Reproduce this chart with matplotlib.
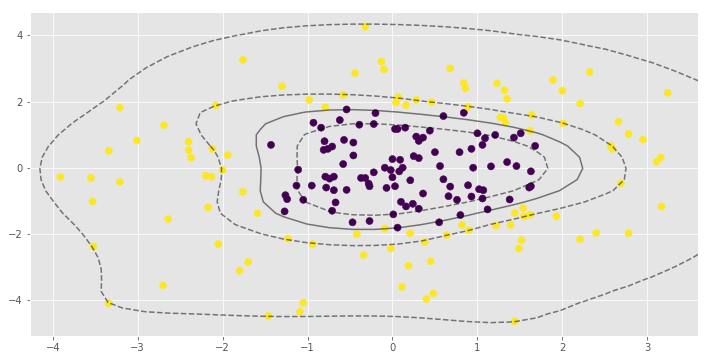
import numpy as np
import matplotlib
matplotlib.use("Agg")
import matplotlib.pyplot as plt

plt.style.use("ggplot")

purple_x = [-0.54, -0.20, 0.60, 0.84, -1.43, -0.93, -0.84, -0.62, -0.39, -0.80, -0.57, -0.46, -0.81, -0.76, -0.71,
            -0.46, -0.58, -1.11, -0.79, -0.74, -0.69, -0.37, -0.32, -0.95, -1.13, -0.78, -0.69, -0.54, -1.26, -1.24,
            -1.05, -0.67, -1.27, -0.71, -0.47, -0.22, 0.03, 0.06, 0.15, 0.44, 0.28, 0.31, 0.36, 0.50, 0.79, 0.93,
            1.00, 1.09, 1.06, 1.21, 1.43, 1.51, 0.00, 0.09, 0.25, 0.31, -0.09, -0.02, 0.12, 0.08, 0.56, 0.95, 1.16,
            1.35, 1.46, -0.22, 0.00, 0.21, 0.60, -0.28, -0.27, -0.07, 0.03, 0.68, 0.89, 1.02, 1.07, 0.36, 0.66,
            0.76, 0.93, 1.06, 1.38, 0.10, 0.16, 0.24, 0.31, 0.01, 0.80, 1.12, -0.27, 0.55, 0.06, 1.68, 1.63, 1.61,
            1.63]
purple_y = [1.76, 1.65, 1.56, 1.66, 0.69, 1.36, 1.21, 1.44, 1.30, 0.80, 0.84, 0.76, 0.54, 0.57, 0.64,
            0.37, 0.11, -0.06, -0.27, -0.33, -0.27, -0.31, -0.31, -0.54, -0.54, -0.60, -0.68, -0.67, -0.83, -0.95,
            -0.97, -1.05, -1.32, -1.30, -1.65, 1.32, 1.17, 1.17, 1.21, 1.12, 0.94, 0.81, 0.91, 0.47, 0.47, 0.57,
            1.04, 0.89, 0.69, 0.99, 0.91, 1.04, 0.26, 0.24, 0.35, 0.29, 0.00, -0.07, 0.00, -0.11, 0.05, 0.00, 0.04,
            0.17, 0.05, -0.14, -0.29, -0.38, -0.35, -0.48, -0.56, -0.61, -0.56, -0.57, -0.53, -0.65, -0.68, -0.78, -0.86,
            -0.97, -0.87, -0.93, -0.96, -1.03, -1.17, -1.09, -1.24, -1.41, -1.43, -1.26, -1.61, -1.65, -1.81, 0.66, -0.11, -0.60,
            -0.56]

yellow_x = [-3.21, -1.76, -0.44, -1.30, -2.08, -0.98, -0.58, -0.79, -0.32, -0.13, -0.10, 0.68, 0.84, 0.86, 1.23,
            1.32, 1.35, 0.07, 0.04, 0.16, 0.28, 0.46, 0.89, 1.27, 1.31, 1.33, 1.64, 1.89, 2.32, 2.00, 2.21, 3.24,
            2.66, -2.69, -3.01, -3.34, -2.40, -2.40, -2.37, -3.91, -3.55, -3.21, -3.53, -2.64, -2.12, -1.94, -2.00,
            -2.20, -2.13, -1.76, -2.17, -1.59, 1.62, 2.01, 2.78, 2.95, 2.57, 2.59, 3.16, 3.11, 2.69, 3.17, 1.44,
            1.54, 1.55, 1.62, 1.93, -3.52, -2.70, -3.34, -2.05, -1.80, -1.70, -1.23, -0.94, -0.42, -0.34, -1.05,
            -1.09, -1.46, -0.09, 0.21, 0.82, 0.90, 0.64, 1.22, 1.39, 1.52, 1.49, 0.38, -0.02, 0.19, 0.45, 0.11,
            0.48, 0.40, 1.44, 2.21, 2.40, 2.78]
yellow_y = [1.82, 3.26, 2.86, 2.46, 1.88, 2.05, 2.20, 1.83, 4.26, 3.21, 2.97, 3.00, 2.56, 2.40, 2.55,
            2.34, 2.08, 2.13, 1.97, 1.89, 2.05, 1.98, 1.84, 1.52, 1.50, 1.37, 1.59, 2.65, 2.89, 2.33, 1.94, 2.26,
            1.39, 1.28, 0.82, 0.51, 0.79, 0.53, 0.30, -0.28, -0.31, -0.43, -1.02, -1.55, 0.57, 0.38, -0.07,
            -0.24, -0.27, -0.73, -1.20, -1.38, 1.12, 1.34, 1.02, 0.85, 0.67, 0.57, 0.31, 0.18, -0.47, -1.17, -1.37,
            -1.22, -1.47, -1.42, -1.47, -2.38, -3.56, -4.10, -2.31, -3.11, -2.85, -2.14, -2.31, -2.01, -2.64, -4.08,
            -4.35, -4.48, -1.84, -1.98, -1.73, -1.89, -2.04, -1.75, -1.73, -2.19, -2.44, -2.25, -2.44, -2.96, -2.83, -3.60,
            -3.80, -3.97, -4.64, -2.16, -1.97, -1.98]

X = np.column_stack([np.r_[purple_x, yellow_x], np.r_[purple_y, yellow_y]])
labels = np.r_[np.zeros(len(purple_x)), np.ones(len(yellow_x))]
ysgn = np.where(labels > 0, 1.0, -1.0)

# --- simple RBF SVM (SMO) ---
C = 1.0
gamma = 0.5


def kern(A, B):
    d = ((A[:, None, :] - B[None, :, :]) ** 2).sum(-1)
    return np.exp(-gamma * d)


K = kern(X, X)
Q = ysgn[:, None] * ysgn[None, :] * K
n = len(ysgn)
alpha = np.zeros(n)
G = -np.ones(n)
m = Mv = 0.0
for it in range(20000):
    up = ((alpha < C) & (ysgn > 0)) | ((alpha > 0) & (ysgn < 0))
    low = ((alpha < C) & (ysgn < 0)) | ((alpha > 0) & (ysgn > 0))
    v = -ysgn * G
    vu = np.where(up, v, -np.inf)
    i = int(np.argmax(vu))
    m = vu[i]
    vl = np.where(low, v, np.inf)
    Mv = vl.min()
    if m - Mv < 1e-4:
        break
    bb = m - v
    aa = K[i, i] + np.diag(K) - 2 * K[i]
    aa = np.maximum(aa, 1e-12)
    cand = low & (v < m)
    score = np.where(cand, -bb ** 2 / aa, np.inf)
    j = int(np.argmin(score))
    t = bb[j] / aa[j]
    tmax_i = (C - alpha[i]) if ysgn[i] > 0 else alpha[i]
    tmax_j = alpha[j] if ysgn[j] > 0 else (C - alpha[j])
    t = min(t, tmax_i, tmax_j)
    di = ysgn[i] * t
    dj = -ysgn[j] * t
    alpha[i] += di
    alpha[j] += dj
    G += Q[:, i] * di + Q[:, j] * dj

free = (alpha > 1e-8) & (alpha < C - 1e-8)
if free.any():
    rho = np.mean(ysgn[free] * G[free])
else:
    rho = -(m + Mv) / 2

fig = plt.figure(figsize=(709 / 72, 361 / 72), dpi=72)
ax = fig.add_axes([30 / 709, 25 / 361, 668 / 709, 324 / 361])
ax.scatter(X[:, 0], X[:, 1], c=labels, s=50, cmap="viridis")

xlim = ax.get_xlim()
ylim = ax.get_ylim()
gx = np.linspace(xlim[0], xlim[1], 30)
gy = np.linspace(ylim[0], ylim[1], 30)
YY, XX = np.meshgrid(gy, gx)
P = np.vstack([XX.ravel(), YY.ravel()]).T
dec = (kern(P, X) @ (alpha * ysgn) - rho).reshape(XX.shape)
ax.contour(XX, YY, dec, colors="k", levels=[-1, 0, 1], alpha=0.5,
           linestyles=["--", "-", "--"])
ax.set_xlim(xlim)
ax.set_ylim(ylim)
fig.savefig("out.png", dpi=72)
